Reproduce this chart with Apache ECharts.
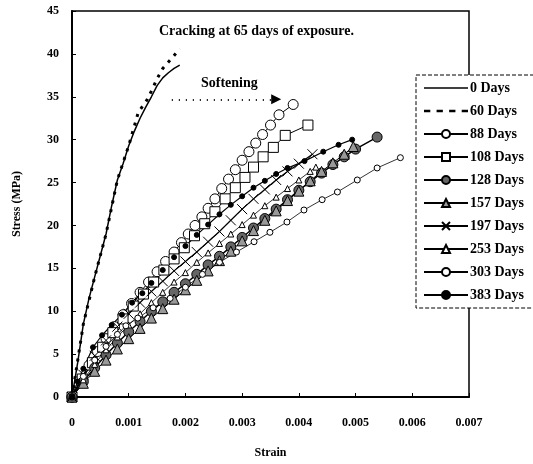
<!DOCTYPE html>
<html>
<head>
<meta charset="utf-8">
<script src="https://cdn.jsdelivr.net/npm/echarts@6/dist/echarts.min.js"></script>
<style>
  html, body { margin: 0; padding: 0; background: #fff; }
  #chart { width: 533px; height: 464px; }
</style>
</head>
<body>
<div id="chart"></div>
<script>
// strain / stress pairs
var days0 = [[0,0],[0.0001,4],[0.0002,8.5],[0.0003,11.5],[0.0004,14],[0.0005,16.5],[0.0006,19],[0.0007,22.3],[0.0008,25.3],[0.0009,27.2],[0.001,29.3],[0.0011,31],[0.0012,32.5],[0.0013,33.8],[0.0014,35],[0.0015,36.3],[0.0016,37.2],[0.0017,37.8],[0.0018,38.3],[0.0019,38.7]];
var days60 = [[0,0],[0.0002,8.5],[0.0004,14],[0.0006,19],[0.0008,25.3],[0.001,29.3],[0.00117,33.2],[0.00132,34.6],[0.00141,35.8],[0.0015,37.1],[0.0016,38.3],[0.00176,39.5],[0.0019,40.6]];
var days88 = [[0,0],[0.00015,2],[0.0003,3.7],[0.00045,5.3],[0.0006,6.8],[0.00075,8.2],[0.0009,9.6],[0.00105,10.9],[0.0012,12.2],[0.00135,13.4],[0.0015,14.6],[0.00165,15.8],[0.0018,16.9],[0.00193,18],[0.00205,19],[0.00217,20],[0.00229,21],[0.0024,22],[0.00252,23.1],[0.00264,24.3],[0.00276,25.4],[0.00288,26.5],[0.003,27.6],[0.00312,28.6],[0.00324,29.6],[0.00336,30.6],[0.0035,31.7],[0.00365,32.9],[0.0039,34.1]];
var days108 = [[0,0],[0.00018,2.1],[0.00036,4],[0.00054,5.8],[0.00072,7.5],[0.0009,9.1],[0.00108,10.6],[0.00126,12],[0.00144,13.4],[0.00162,14.8],[0.0018,16.1],[0.00198,17.4],[0.00216,18.8],[0.00234,20.2],[0.00252,21.6],[0.0027,23.1],[0.00288,24.4],[0.00305,25.6],[0.0032,26.8],[0.00337,28],[0.00355,29.1],[0.00376,30.5],[0.00416,31.7]];
var days128 = [[0,0],[0.0002,1.8],[0.0004,3.4],[0.0006,4.9],[0.0008,6.3],[0.001,7.6],[0.0012,8.8],[0.0014,10],[0.0016,11.1],[0.0018,12.2],[0.002,13.2],[0.0022,14.3],[0.0024,15.4],[0.0026,16.4],[0.0028,17.5],[0.003,18.6],[0.0032,19.7],[0.0034,20.8],[0.0036,21.9],[0.0038,23],[0.004,24.1],[0.0042,25.1],[0.0044,26.1],[0.0046,27.1],[0.0048,28],[0.005,28.9],[0.00538,30.3]];
var days157 = [[0,0],[0.0002,1.6],[0.0004,3],[0.0006,4.3],[0.0008,5.6],[0.001,6.8],[0.0012,8],[0.0014,9.2],[0.0016,10.3],[0.0018,11.4],[0.002,12.5],[0.0022,13.6],[0.0024,14.7],[0.0026,15.9],[0.0028,17],[0.003,18.2],[0.0032,19.4],[0.0034,20.6],[0.0036,21.7],[0.0038,22.9],[0.004,24],[0.0042,25.2],[0.0044,26.3],[0.0046,27.3],[0.0048,28.3],[0.00496,29.2]];
var days197 = [[0,0],[0.0002,2.6],[0.0004,4.8],[0.0006,6.6],[0.0008,8.2],[0.001,9.7],[0.0012,11],[0.0014,12.3],[0.0016,13.5],[0.0018,14.7],[0.002,15.8],[0.0022,16.9],[0.0024,18.1],[0.0026,19.3],[0.0028,20.6],[0.003,21.9],[0.0032,23.1],[0.0034,24.2],[0.0036,25.3],[0.0038,26.3],[0.004,27.2],[0.00424,28.3]];
var days253 = [[0,0],[0.0002,2],[0.0004,3.8],[0.0006,5.5],[0.0008,7],[0.001,8.4],[0.0012,9.7],[0.0014,11],[0.0016,12.2],[0.0018,13.4],[0.002,14.5],[0.0022,15.7],[0.0024,16.8],[0.0026,17.9],[0.0028,19],[0.003,20.1],[0.0032,21.2],[0.0034,22.3],[0.0036,23.3],[0.0038,24.3],[0.004,25.3],[0.0042,26.3],[0.0043,26.8]];
var days303 = [[0,0],[0.0002,2.4],[0.0004,4.3],[0.0006,5.9],[0.0008,7.3],[0.00095,8.3],[0.00116,9.2],[0.00143,10.4],[0.00173,11.5],[0.002,12.8],[0.0023,14.3],[0.0026,15.7],[0.0029,16.9],[0.00321,18.1],[0.00349,19.2],[0.00379,20.4],[0.00409,21.8],[0.00441,23],[0.00468,23.9],[0.00503,25.3],[0.00538,26.7],[0.00579,27.9]];
var days383 = [[0,0],[0.0001,1.8],[0.0002,3.3],[0.00037,5.8],[0.00053,7.2],[0.0007,8.4],[0.00088,9.6],[0.00106,11],[0.00124,12.1],[0.0014,13.3],[0.0016,14.8],[0.0018,16.3],[0.002,17.6],[0.0022,18.9],[0.0024,20.1],[0.0026,21.3],[0.0028,22.4],[0.003,23.4],[0.0032,24.4],[0.0034,25.2],[0.0036,26],[0.0038,26.7],[0.0041,27.5],[0.00443,28.6],[0.0047,29.4],[0.00494,30]];

var names = ['0 Days','60 Days','88 Days','108 Days','128 Days','157 Days','197 Days','253 Days','303 Days','383 Days'];
var softening = [[0.00176, 34.7], [0.0036, 34.7]];

var font = 'Liberation Serif';
var chart = echarts.init(document.getElementById('chart'));

function marked(name, data, symbol, size, fill, width) {
  return {
    name: name, type: 'line', data: data,
    symbol: symbol, symbolSize: size, showSymbol: true,
    lineStyle: { color: '#000', width: width },
    itemStyle: { color: fill, borderColor: '#000', borderWidth: 1 },
    animation: false, z: 3
  };
}

// plain line icons for the two series without markers
var solidIcon = 'path://M0,0h44v1.5h-44z';
var dashIcon = 'path://M1,0h6v2.5h-6zM13,0h6v2.5h-6zM25,0h6v2.5h-6zM37,0h6v2.5h-6z';
var legendData = names.map(function (n, i) {
  if (i === 0) return { name: n, icon: solidIcon, itemStyle: { color: '#000' } };
  if (i === 1) return { name: n, icon: dashIcon, itemStyle: { color: '#000' } };
  return { name: n };
});

chart.setOption({
  backgroundColor: '#fff',
  textStyle: { fontFamily: font, color: '#000' },
  title: {
    text: 'Cracking at 65 days of exposure.',
    left: 154, top: 19,
    textStyle: { fontFamily: font, fontSize: 14, fontWeight: 'bold', color: '#000' }
  },
  grid: {
    left: 72, top: 11, right: 64, bottom: 67,
    show: true, borderColor: '#000', borderWidth: 1.5
  },
  legend: {
    orient: 'vertical', left: 416, top: 75,
    padding: [6, 40, 6, 7],
    itemWidth: 44, itemHeight: 10, itemGap: 9,
    backgroundColor: '#fff', borderColor: '#000', borderWidth: 1, borderType: 'dashed',
    textStyle: { fontFamily: font, fontSize: 14, lineHeight: 14, fontWeight: 'bold', color: '#000', padding: [0, 0, 0, -3] },
    data: legendData
  },
  xAxis: {
    type: 'value', min: 0, max: 0.007, interval: 0.001,
    name: 'Strain', nameLocation: 'middle', nameGap: 50,
    nameTextStyle: { fontFamily: font, fontSize: 12, fontWeight: 'bold', color: '#000' },
    axisLine: { lineStyle: { color: '#000', width: 2 } },
    axisTick: { inside: true, length: 4, lineStyle: { color: '#000' } },
    axisLabel: { margin: 20, fontFamily: font, fontSize: 12, fontWeight: 'bold', color: '#000' },
    splitLine: { show: false }
  },
  yAxis: {
    type: 'value', min: 0, max: 45, interval: 5,
    name: 'Stress (MPa)', nameLocation: 'middle', nameGap: 49,
    nameTextStyle: { fontFamily: font, fontSize: 12, fontWeight: 'bold', color: '#000' },
    axisLine: { show: true, lineStyle: { color: '#000', width: 2 } },
    axisTick: { show: true, inside: true, length: 4, lineStyle: { color: '#000' } },
    axisLabel: { margin: 13, fontFamily: font, fontSize: 12, fontWeight: 'bold', color: '#000' },
    splitLine: { show: false }
  },
  series: [
    {
      name: names[0], type: 'line', data: days0, symbol: 'none', showSymbol: false,
      lineStyle: { color: '#000', width: 1.5 }, itemStyle: { color: '#000' }, animation: false,
      markLine: {
        silent: true, symbol: ['none', 'triangle'], symbolSize: 10,
        lineStyle: { color: '#000', type: [1, 6], width: 2 },
        label: { show: false },
        data: [[{ coord: softening[0] }, { coord: softening[1] }]]
      }
    },
    {
      name: names[1], type: 'line', data: days60, symbol: 'none', showSymbol: false,
      lineStyle: { color: '#000', width: 3, type: [3, 6] }, itemStyle: { color: '#000' }, animation: false
    },
    marked(names[2], days88, 'circle', 10, '#fff', 1),
    marked(names[3], days108, 'rect', 10, '#fff', 1),
    marked(names[4], days128, 'circle', 10, '#666', 1.5),
    marked(names[5], days157, 'triangle', 10, '#999', 1),
    {
      name: names[6], type: 'line', data: days197,
      symbol: 'path://M0,0L10,10M10,0L0,10', symbolSize: 10, showSymbol: true,
      lineStyle: { color: '#000', width: 1.2 },
      itemStyle: { color: 'none', borderColor: '#000', borderWidth: 1 }, animation: false
    },
    marked(names[7], days253, 'triangle', 6, '#fff', 0.8),
    marked(names[8], days303, 'circle', 6, '#fff', 0.8),
    marked(names[9], days383, 'circle', 5, '#000', 1.2)
  ],
  graphic: [{
    type: 'text', left: 201, top: 76,
    style: { text: 'Softening', fontFamily: font, fontSize: 14, fontWeight: 'bold', fill: '#000' }
  }]
});
</script>
</body>
</html>
